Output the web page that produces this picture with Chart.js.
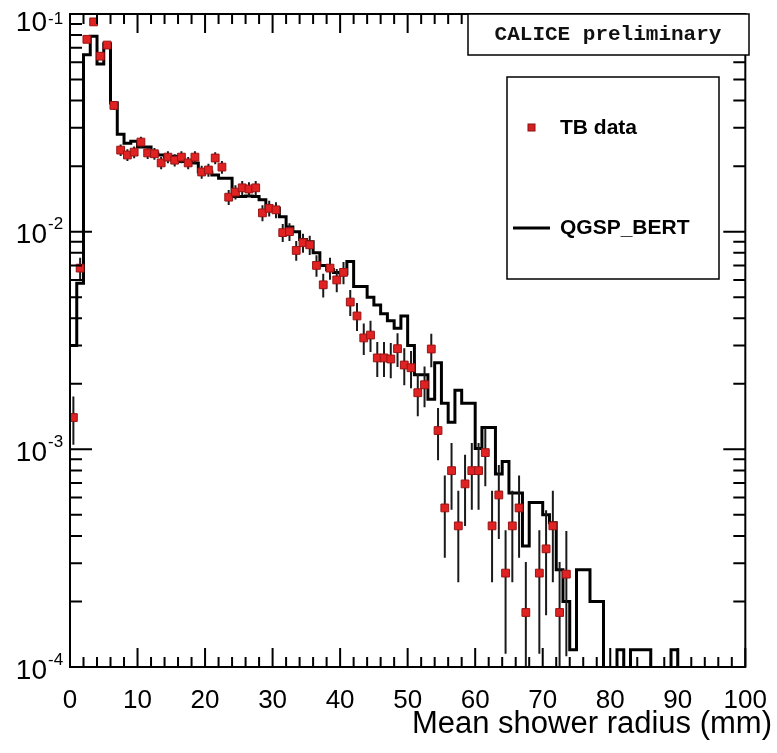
<!DOCTYPE html>
<html>
<head>
<meta charset="utf-8">
<script src="https://cdn.jsdelivr.net/npm/chart.js@4.4.1/dist/chart.umd.min.js"></script>
<style>
html,body{margin:0;padding:0;background:#ffffff;}
#wrap{width:777px;height:753px;position:relative;}
canvas{display:block;}
</style>
</head>
<body>
<div id="wrap"><canvas id="c" width="777" height="753"></canvas></div>
<script>
// Bin lower edges (mm), 1 mm bins from 0 to 100
const binEdges = [0,1,2,3,4,5,6,7,8,9,10,11,12,13,14,15,16,17,18,19,20,21,22,23,24,25,26,27,28,29,
  30,31,32,33,34,35,36,37,38,39,40,41,42,43,44,45,46,47,48,49,50,51,52,53,54,55,56,57,58,59,
  60,61,62,63,64,65,66,67,68,69,70,71,72,73,74,75,76,77,78,79,80,81,82,83,84,85,86,87,88,89,
  90,91,92,93,94,95,96,97,98,99,100];

// TB data (normalised entries per bin), null = empty bin
const tbData = [0.0014,0.0068,0.0765,0.092,0.064,0.072,0.038,0.0237,0.0225,0.0232,
  0.0258,0.0230,0.0228,0.0207,0.0220,0.0213,0.0220,0.0207,0.0220,0.0188,
  0.0192,0.0218,0.0198,0.0144,0.0152,0.0159,0.0157,0.0159,0.0122,0.0128,
  0.0126,0.0099,0.0100,0.0082,0.0089,0.0087,0.0070,0.0057,0.0068,0.0060,
  0.0065,0.00475,0.0041,0.00325,0.00335,0.00263,0.00263,0.0026,0.0029,0.00244,
  0.00237,0.00182,0.00198,0.00289,0.00122,0.000538,0.000798,0.000445,0.000694,0.000798,
  0.000798,0.000966,0.000445,0.000617,0.00027,0.000445,0.000538,0.000178,null,0.00027,
  0.000349,0.000445,0.000178,0.000267,null,null,null,null,null,null,
  null,null,null,null,null,null,null,null,null,null,
  null,null,null,null,null,null,null,null,null,null];

// TB data statistical errors
const tbErr = [0.00035,0.00078,0.0026,0.0029,0.0024,0.0025,0.0018,0.00145,0.0014,0.00144,
  0.0015,0.00143,0.00142,0.00136,0.0014,0.00138,0.0014,0.00136,0.0014,0.00129,
  0.0013,0.00139,0.00133,0.00113,0.00116,0.00119,0.00118,0.00119,0.00104,0.00107,
  0.00106,0.00094,0.00094,0.00085,0.00089,0.00088,0.00079,0.00071,0.00078,0.00073,
  0.00076,0.00065,0.0006,0.00054,0.00055,0.00048,0.00048,0.00048,0.00051,0.00047,
  0.00046,0.0004,0.00042,0.00051,0.00033,0.00022,0.00027,0.0002,0.00025,0.00027,
  0.00027,0.00029,0.0002,0.00023,0.000155,0.0002,0.00022,0.000126,null,0.000155,
  0.000176,0.0002,0.000126,0.000155,null,null,null,null,null,null,
  null,null,null,null,null,null,null,null,null,null,
  null,null,null,null,null,null,null,null,null,null];

// QGSP_BERT simulation histogram, one value per bin
const qgspBert = [0.0030,0.0058,0.065,0.079,0.059,0.073,0.039,0.028,0.0255,0.026,
  0.0245,0.0245,0.023,0.0225,0.022,0.0222,0.021,0.021,0.0207,0.0188,
  0.0188,0.0182,0.0176,0.0176,0.0145,0.0145,0.0146,0.0145,0.0140,0.0128,
  0.0128,0.0117,0.0105,0.0100,0.0092,0.0090,0.0080,0.0070,0.0067,0.0065,
  0.0064,0.0073,0.0056,0.0056,0.0050,0.0046,0.0042,0.0039,0.0036,0.0041,
  0.0030,0.0022,0.0022,0.0017,0.0025,0.00163,0.00133,0.00187,0.00163,0.00163,
  0.00101,0.00126,0.00126,0.00077,0.00088,0.00063,0.00063,0.00036,0.00057,0.00057,
  0.00050,0.00046,0.00028,0.00020,0.00012,0.00028,0.00028,0.00020,0.00020,0,
  0,0.00012,0,0.00012,0.00012,0.00012,0,0,0,0.00012,
  0,0,0,0,0,0,0,0,0,0];

const xTickLabels = ['0','10','20','30','40','50','60','70','80','90','100'];
const yDecades = [-4,-3,-2,-1];
const xTitle = 'Mean shower radius (mm)';
const seriesNames = ['TB data','QGSP_BERT'];
const tagText = 'CALICE preliminary';

// empty bins are drawn on the lower frame edge (below the log axis minimum, clipped)
const LOG_FLOOR = 5e-5;
const mcPoints = binEdges.map((e, i) => {
  const v = qgspBert[Math.min(i, qgspBert.length - 1)];
  return {x: e, y: v > 0 ? v : LOG_FLOOR};
});
const dataPoints = [];
const errPoints = [];
tbData.forEach((v, i) => {
  if (v === null) return;
  const c = (binEdges[i] + binEdges[i + 1]) / 2;
  dataPoints.push({x: c, y: v});
  const e = tbErr[i] || 0;
  const lo = v - e;
  errPoints.push({x: c, y: lo > 0 ? lo : LOG_FLOOR});
  errPoints.push({x: c, y: v + e});
  errPoints.push({x: c, y: null});
});

const decorPlugin = {
  id: 'decor',
  afterDatasetsDraw(chart) {
    const ctx = chart.ctx;
    const a = chart.chartArea;
    const xs = chart.scales.x, ys = chart.scales.y;
    ctx.save();
    // white out anything below the frame (clipped overshoot)
    ctx.fillStyle = '#fff';
    ctx.fillRect(a.left - 2, a.bottom + 1, a.right - a.left + 4, 4);
    ctx.strokeStyle = '#000';
    ctx.fillStyle = '#000';
    // frame
    ctx.lineWidth = 2;
    ctx.strokeRect(a.left, a.top, a.right - a.left, a.bottom - a.top);
    // x ticks (bottom + top), every 2 mm, major every 10
    ctx.beginPath();
    for (let v = 0; v <= 100; v += 2) {
      const px = xs.getPixelForValue(v);
      const len = (v % 10 === 0) ? 19 : 10;
      ctx.moveTo(px, a.bottom); ctx.lineTo(px, a.bottom - len);
      ctx.moveTo(px, a.top); ctx.lineTo(px, a.top + len);
    }
    // y ticks (left + right)
    yDecades.forEach(d => {
      for (let m = 1; m <= 9; m++) {
        const val = m * Math.pow(10, d);
        const py = ys.getPixelForValue(val);
        const len = (m === 1) ? 22 : 12;
        ctx.moveTo(a.left, py); ctx.lineTo(a.left + len, py);
        ctx.moveTo(a.right, py); ctx.lineTo(a.right - len, py);
      }
    });
    ctx.stroke();

    // y tick labels 10^d
    ctx.textBaseline = 'middle';
    yDecades.forEach(d => {
      const py = ys.getPixelForValue(Math.pow(10, d));
      const mainC = Math.max(py + 4, 23.5);
      const supC = Math.max(mainC - 11, 19);
      ctx.font = '28px "Liberation Sans", Arial, sans-serif';
      ctx.textAlign = 'right';
      ctx.fillText('10', 47, mainC);
      ctx.font = '17px "Liberation Sans", Arial, sans-serif';
      ctx.textAlign = 'left';
      ctx.fillText(String(d), 48, supC);
    });

    // x axis title
    ctx.font = '31px "Liberation Sans", Arial, sans-serif';
    ctx.textAlign = 'right';
    ctx.textBaseline = 'middle';
    ctx.fillText(xTitle, 772, 724);

    // CALICE preliminary box
    ctx.fillStyle = '#fff';
    ctx.fillRect(468, 14, 281, 41);
    ctx.lineWidth = 1.5;
    ctx.strokeRect(468, 14, 281, 41);
    ctx.fillStyle = '#111';
    ctx.font = 'bold 21px "Liberation Mono", "Courier New", monospace';
    ctx.textAlign = 'center';
    ctx.fillText(tagText, 608, 35);

    // legend box
    ctx.fillStyle = '#fff';
    ctx.fillRect(507, 77, 212, 202);
    ctx.lineWidth = 1.5;
    ctx.strokeStyle = '#000';
    ctx.strokeRect(507, 77, 212, 202);
    ctx.fillStyle = '#d42020';
    ctx.fillRect(528, 124, 7, 7);
    ctx.strokeStyle = '#8a1010';
    ctx.lineWidth = 1;
    ctx.strokeRect(528, 124, 7, 7);
    ctx.strokeStyle = '#000';
    ctx.lineWidth = 3;
    ctx.beginPath(); ctx.moveTo(513, 228); ctx.lineTo(550, 228); ctx.stroke();
    ctx.fillStyle = '#000';
    ctx.font = 'bold 21px "Liberation Sans", Arial, sans-serif';
    ctx.textAlign = 'left';
    ctx.fillText(seriesNames[0], 560, 128);
    ctx.fillText(seriesNames[1], 560, 228);
    ctx.restore();
  }
};

new Chart(document.getElementById('c'), {
  type: 'line',
  data: {
    datasets: [
      {
        label: seriesNames[0],
        data: dataPoints,
        showLine: false,
        pointStyle: 'rect',
        pointRadius: 5.5,
        backgroundColor: '#e02222',
        borderColor: '#9a1414',
        pointBorderWidth: 1,
        order: 0
      },
      {
        label: 'errors',
        data: errPoints,
        showLine: true,
        spanGaps: false,
        pointRadius: 0,
        borderColor: '#1a1a1a',
        borderWidth: 2,
        order: 1
      },
      {
        label: seriesNames[1],
        data: mcPoints,
        stepped: 'before',
        pointRadius: 0,
        borderColor: '#000',
        borderWidth: 3,
        fill: false,
        order: 2
      }
    ]
  },
  options: {
    responsive: false,
    animation: false,
    devicePixelRatio: 1,
    layout: {padding: {top: 14, right: 27, left: 0, bottom: 0}},
    plugins: {legend: {display: false}, tooltip: {enabled: false}},
    scales: {
      x: {
        type: 'linear', min: 0, max: 100, position: 'bottom',
        grid: {display: false}, border: {display: false},
        afterBuildTicks: s => { s.ticks = xTickLabels.map(t => ({value: Number(t)})); },
        ticks: {
          autoSkip: false, maxRotation: 0, minRotation: 0, padding: 10,
          color: '#000',
          font: {family: '"Liberation Sans", Arial, sans-serif', size: 26},
          callback: (v) => { const i = xTickLabels.indexOf(String(v)); return i >= 0 ? xTickLabels[i] : ''; }
        },
        afterFit: s => { s.height = 86; }
      },
      y: {
        type: 'logarithmic', min: 1e-4, max: 0.1,
        grid: {display: false}, border: {display: false},
        ticks: {display: false},
        afterFit: s => { s.width = 70; }
      }
    }
  },
  plugins: [decorPlugin]
});
</script>
</body>
</html>
